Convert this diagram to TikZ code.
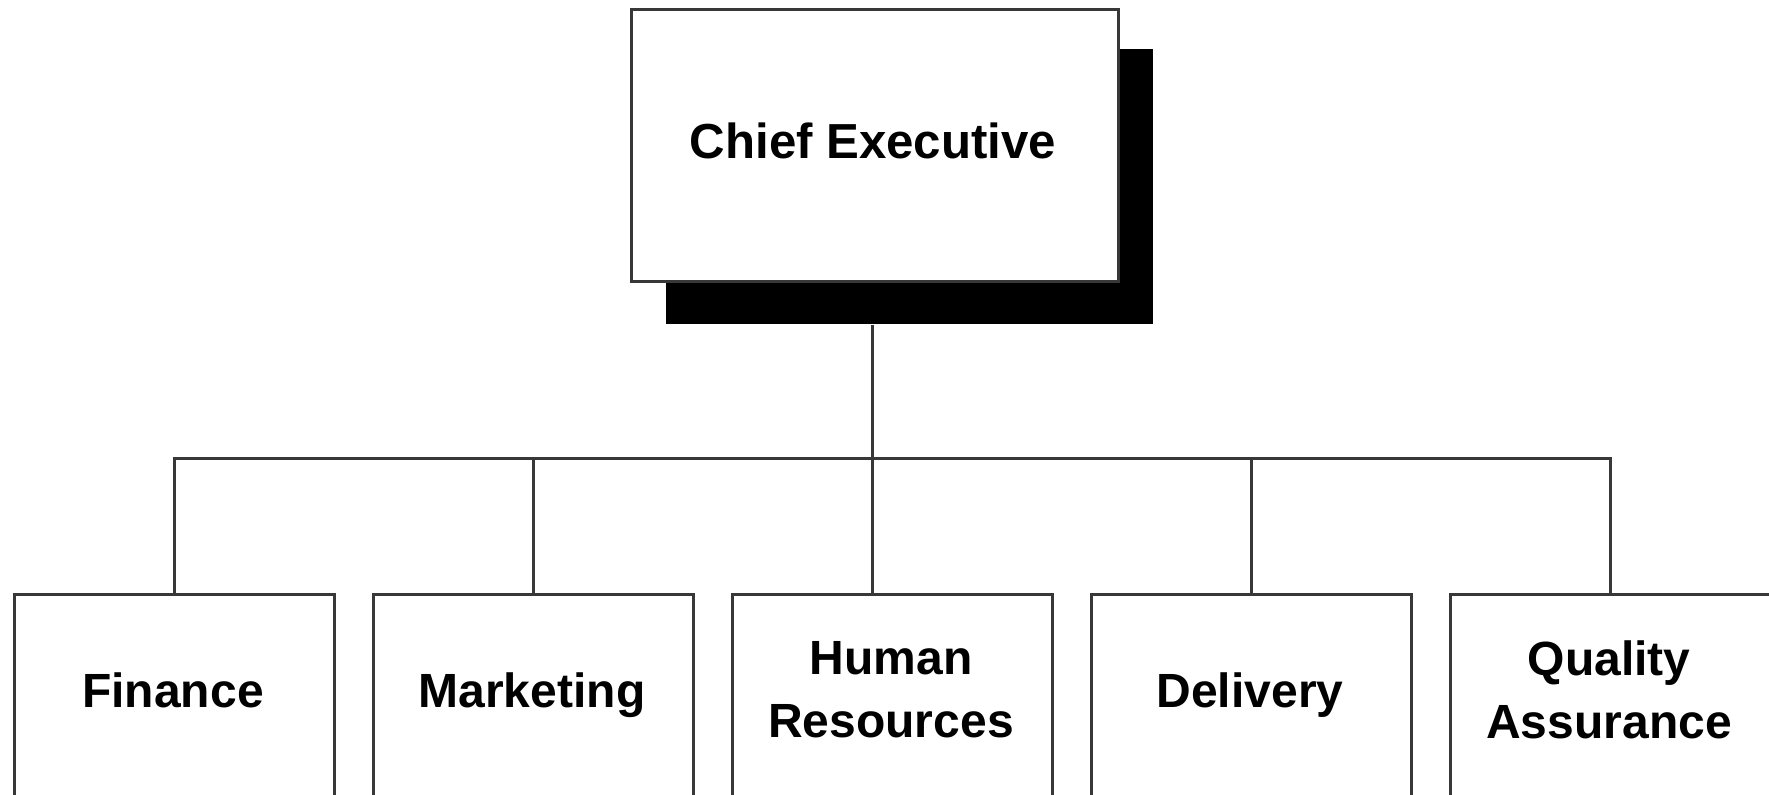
\documentclass[tikz,border=0pt]{standalone}
\usepackage{fontspec}
\setmainfont{Liberation Sans}
\begin{document}
\begin{tikzpicture}[x=0.5pt,y=-0.5pt,
  ln/.style={draw=black!78,line width=1.5pt},
  box/.style={ln,fill=white,rectangle,inner sep=0pt,anchor=north west},
  shade/.style={fill=black,draw=none,rectangle,inner sep=0pt,anchor=north west},
  txt/.style={font=\fontsize{24}{31.5}\selectfont\bfseries,align=center,inner sep=0pt}]
\useasboundingbox (0,0) rectangle (1769,794);
\clip (0,0) rectangle (1769,794);
% chief executive
\node[shade,minimum width=243.5pt,minimum height=137.5pt] (sh) at (666,49) {};
\node[box,minimum width=243.5pt,minimum height=136pt] (ceo) at (630,8) {};
\node[txt,font=\fontsize{24.6}{31.5}\selectfont\bfseries,anchor=base] (ceot) at (873,158) {Chief Executive};
% departments
\foreach \n/\x in {fin/13,mkt/372,hr/731,del/1090,qa/1449}
  \node[box,minimum width=160pt,minimum height=115pt] (\n) at (\x,593) {};
\node[txt,anchor=base] (fint) at (173,707) {Finance};
\node[txt,anchor=base] (mktt) at (532,707) {Marketing};
\node[txt] (hrt) at (891,690) {Human\\Resources};
\node[txt,anchor=base] (delt) at (1250,707) {Delivery};
\node[txt] (qat) at (1609,690) {Quality\\Assurance};
% connectors
\coordinate (bar) at (872,458);
\draw[ln] (sh.south -| bar) -- (bar);
\draw[ln] (fin.north) |- (qa.north |- bar) -- (qa.north);
\draw[ln] (mkt.north) -- (mkt.north |- bar);
\draw[ln] (bar) -- (bar |- hr.north);
\draw[ln] (del.north) -- (del.north |- bar);
\end{tikzpicture}
\end{document}
